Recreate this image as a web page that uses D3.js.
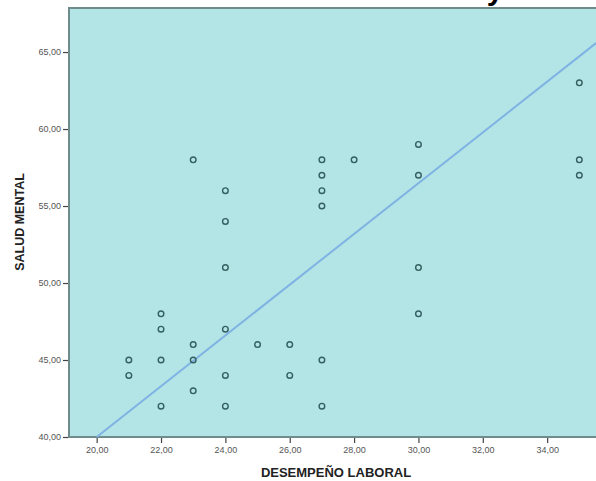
<!DOCTYPE html>
<html>
<head>
<meta charset="utf-8">
<script src="https://cdn.jsdelivr.net/npm/d3@7"></script>
<style>
  html, body { margin: 0; padding: 0; background: #ffffff; }
  svg { display: block; }
</style>
</head>
<body>
<svg id="chart" width="596" height="481"></svg>
<script>
// ---- data ----
const desempeno = [21, 21, 22, 22, 22, 22, 23, 23, 23, 23, 24, 24, 24, 24, 24, 24, 25, 26, 26, 27, 27, 27, 27, 27, 27, 28, 30, 30, 30, 30, 35, 35, 35];
const salud     = [45, 44, 48, 47, 45, 42, 58, 46, 45, 43, 56, 54, 51, 47, 44, 42, 46, 46, 44, 58, 57, 56, 55, 45, 42, 58, 59, 57, 51, 48, 63, 58, 57];
const xTicks = [20, 22, 24, 26, 28, 30, 32, 34];
const yTicks = [40, 45, 50, 55, 60, 65];
const fitX = [20, 35.53];
const fitY = [40, 65.6];
const xTitle = "DESEMPEÑO LABORAL";
const yTitle = "SALUD MENTAL";

// ---- layout ----
const svg = d3.select("#chart");
const mLeft = 69, mTop = 8, mBottom = 437, mRight = 607;
const x = d3.scaleLinear().domain([19.14, 35.86]).range([mLeft, mRight]);
const y = d3.scaleLinear().domain([40, 67.86]).range([mBottom, mTop]);
const fmt = v => d3.format(".2f")(v).replace(".", ",");

// cut-off title fragment at the very top
svg.append("text").attr("x", 495).attr("y", 0)
  .attr("text-anchor", "middle")
  .attr("font-family", "Liberation Sans, Arial, sans-serif")
  .attr("font-weight", "bold").attr("font-size", 30).attr("fill", "#000")
  .text("y");

// plot background
svg.append("rect").attr("x", mLeft).attr("y", mTop)
  .attr("width", mRight - mLeft).attr("height", mBottom - mTop)
  .attr("fill", "#b3e4e6").attr("stroke", "#6e8c8c").attr("stroke-width", 2);

svg.append("clipPath").attr("id", "clip")
  .append("rect").attr("x", mLeft).attr("y", mTop)
  .attr("width", mRight - mLeft).attr("height", mBottom - mTop);

// axes
const yAxis = d3.axisLeft(y).tickValues(yTicks).tickFormat(fmt).tickSize(5).tickPadding(2);
const xAxis = d3.axisBottom(x).tickValues(xTicks).tickFormat(fmt).tickSize(5).tickPadding(4);

const gy = svg.append("g").attr("transform", `translate(${mLeft - 1},0)`).call(yAxis);
const gx = svg.append("g").attr("transform", `translate(0,${mBottom + 1})`).call(xAxis);
[gx, gy].forEach(g => {
  g.select(".domain").remove();
  g.selectAll(".tick line").attr("stroke", "#444").attr("stroke-width", 1.2);
  g.selectAll(".tick text").attr("fill", "#555")
    .attr("font-family", "Liberation Sans, Arial, sans-serif").attr("font-size", 9);
});

// fit line
const fitData = fitX.map((v, i) => [v, fitY[i]]);
svg.append("path").datum(fitData)
  .attr("clip-path", "url(#clip)")
  .attr("d", d3.line().x(d => x(d[0])).y(d => y(d[1])))
  .attr("fill", "none").attr("stroke", "#7fb3e3").attr("stroke-width", 2);

// points
const pts = desempeno.map((v, i) => [v, salud[i]]);
svg.append("g").selectAll("circle").data(pts).join("circle")
  .attr("cx", d => x(d[0])).attr("cy", d => y(d[1])).attr("r", 2.8)
  .attr("fill", "none").attr("stroke", "#355f60").attr("stroke-width", 1.4);

// axis titles
svg.append("text").attr("x", 336).attr("y", 477).attr("text-anchor", "middle")
  .attr("font-family", "Liberation Sans, Arial, sans-serif")
  .attr("font-weight", "bold").attr("font-size", 13).attr("fill", "#222")
  .text(xTitle);
svg.append("text").attr("transform", "translate(24,222) rotate(-90)")
  .attr("text-anchor", "middle")
  .attr("font-family", "Liberation Sans, Arial, sans-serif")
  .attr("font-weight", "bold").attr("font-size", 12.5).attr("fill", "#222")
  .text(yTitle);
</script>
</body>
</html>
